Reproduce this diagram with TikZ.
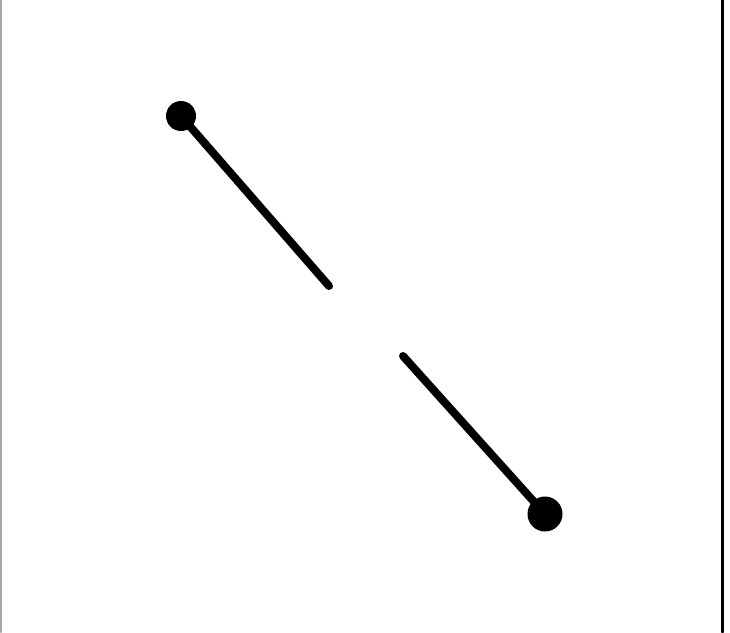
\documentclass[tikz,border=0pt]{standalone}
\usepackage{tikz}
\usetikzlibrary{arrows}

\begin{document}
\begin{tikzpicture}[line cap=round,line join=round,x=1pt,y=-1pt]
\useasboundingbox (0,0) rectangle (730,632);
\draw [line width=2pt,color=black!35] (1,0)-- (1,632);
\draw [line width=3pt] (722,0)-- (722,632);
\node [circle,fill=black,inner sep=0pt,minimum size=30pt] (P) at (181,116) {};
\node [circle,fill=black,inner sep=0pt,minimum size=35pt] (Q) at (545,514) {};
\coordinate (M) at (329,286);
\coordinate (N) at (403,356);
\draw [line width=8pt] (P.center)-- (M);
\draw [line width=8pt] (N)-- (Q.center);
\end{tikzpicture}
\end{document}
